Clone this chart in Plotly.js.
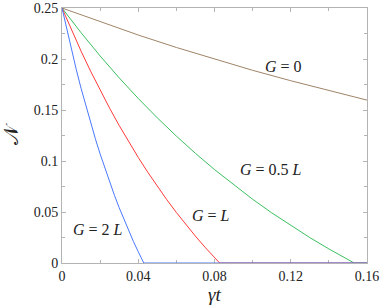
<!DOCTYPE html>
<html>
<head>
<meta charset="utf-8">
<script src="https://cdn.plot.ly/plotly-3.0.1.min.js"></script>
<style>html,body{margin:0;padding:0;background:#fff;}#chart{width:382px;height:307px;}</style>
</head>
<body>
<div id="chart"></div>
<script>
// G = 0
const tG0 = [0, 0.02, 0.04, 0.06, 0.08, 0.10, 0.12, 0.14, 0.16];
const nG0 = [0.25, 0.2364, 0.2235, 0.2113, 0.1998, 0.1889, 0.1787, 0.1689, 0.1597];
// G = 0.5 L
const tG05 = [0, 0.01, 0.02, 0.03, 0.04, 0.05, 0.06, 0.07, 0.08, 0.09, 0.10, 0.11, 0.12, 0.13, 0.14, 0.15, 0.1533, 0.16];
const nG05 = [0.25, 0.2258, 0.2030, 0.1815, 0.1613, 0.1423, 0.1244, 0.1075, 0.0916, 0.0766, 0.0625, 0.0492, 0.0367, 0.0249, 0.0138, 0.0034, 0, 0];
// G = L
const tG1 = [0, 0.005, 0.01, 0.015, 0.02, 0.025, 0.03, 0.035, 0.04, 0.045, 0.05, 0.055, 0.06, 0.065, 0.07, 0.075, 0.08, 0.0827, 0.16];
const nG1 = [0.25, 0.2283, 0.2077, 0.1881, 0.1694, 0.1517, 0.1348, 0.1188, 0.1035, 0.0890, 0.0751, 0.0620, 0.0495, 0.0376, 0.0263, 0.0155, 0.0053, 0, 0];
// G = 2 L
const tG2 = [0, 0.0025, 0.005, 0.0075, 0.01, 0.0125, 0.015, 0.0175, 0.02, 0.0225, 0.025, 0.0275, 0.03, 0.0325, 0.035, 0.0375, 0.04, 0.0425, 0.0429, 0.16];
const nG2 = [0.25, 0.2288, 0.2087, 0.1895, 0.1713, 0.1540, 0.1375, 0.1218, 0.1069, 0.0927, 0.0792, 0.0664, 0.0542, 0.0426, 0.0315, 0.0210, 0.0110, 0.0015, 0, 0];

const xTicks = [0, 0.04, 0.08, 0.12, 0.16];
const xTickLabels = ['0', '0.04', '0.08', '0.12', '0.16'];
const yTicks = [0, 0.05, 0.1, 0.15, 0.2, 0.25];
const yTickLabels = ['0', '0.05', '0.1', '0.15', '0.2', '0.25'];

const labels = ['<i>G</i> = 0', '<i>G</i> = 0.5 <i>L</i>', '<i>G</i> = <i>L</i>', '<i>G</i> = 2 <i>L</i>'];
const labelX = [0.116, 0.1094, 0.078, 0.0188];
const labelY = [0.1925, 0.0914, 0.047, 0.0324];

const serif = 'Times New Roman, Liberation Serif, serif';
const mk = (x, y, c) => ({x, y, type: 'scatter', mode: 'lines', line: {color: c, width: 1}, hoverinfo: 'skip'});
const data = [
  mk(tG0, nG0, '#a08468'),
  mk(tG05, nG05, '#3cc060'),
  mk(tG1, nG1, '#ff3a3a'),
  mk(tG2, nG2, '#4a78ff')
];

const axisCommon = {
  showgrid: false, zeroline: false, showline: true, linecolor: '#b4b4b4', linewidth: 1,
  mirror: 'ticks', ticks: 'inside', ticklen: 4, tickcolor: '#b4b4b4', tickwidth: 1,
  tickfont: {family: serif, size: 14, color: '#222'}, layer: 'below traces'
};

const layout = {
  width: 382, height: 307,
  margin: {l: 62, r: 15, t: 8, b: 44},
  paper_bgcolor: '#fff', plot_bgcolor: '#fff',
  showlegend: false,
  font: {family: serif},
  xaxis: Object.assign({}, axisCommon, {
    range: [0, 0.16], tickmode: 'array', tickvals: xTicks, ticktext: xTickLabels,
    minor: {dtick: 0.02, tick0: 0, ticks: 'inside', ticklen: 3, tickcolor: '#b4b4b4'},
    title: {text: '<i>γt</i>', font: {family: serif, size: 19, color: '#222'}, standoff: 2}
  }),
  yaxis: Object.assign({}, axisCommon, {
    range: [0, 0.25], tickmode: 'array', tickvals: yTicks, ticktext: yTickLabels,
    minor: {dtick: 0.025, tick0: 0, ticks: 'inside', ticklen: 3, tickcolor: '#b4b4b4'},
    title: {text: '𝒩', font: {family: serif, size: 20, color: '#222'}, standoff: 10}
  }),
  annotations: labels.map((t, i) => ({
    x: labelX[i], y: labelY[i], xref: 'x', yref: 'y', text: t, showarrow: false,
    font: {family: serif, size: 16, color: '#222'}
  }))
};

Plotly.newPlot('chart', data, layout, {staticPlot: true, displayModeBar: false});
</script>
</body>
</html>
